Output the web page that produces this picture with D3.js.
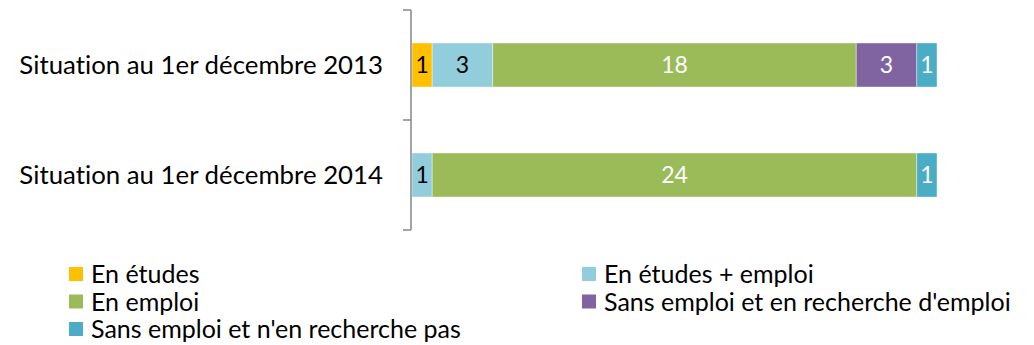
<!DOCTYPE html>
<html>
<head>
<meta charset="utf-8">
<script src="https://cdn.jsdelivr.net/npm/d3@7"></script>
<style>
  body { margin: 0; background: #fff; }
  text { font-family: Lato, "Open Sans", sans-serif; font-variant-ligatures: none; }
</style>
</head>
<body>
<svg id="chart" width="1034" height="345"></svg>
<script>
// Situations at each date, number of people per status
const categories = ["Situation au 1er décembre 2013", "Situation au 1er décembre 2014"];
const seriesNames = [
  "En études",
  "En études + emploi",
  "En emploi",
  "Sans emploi et en recherche d'emploi",
  "Sans emploi et n'en recherche pas"
];
const seriesColors = ["#FFC000", "#92CDDC", "#9BBB59", "#8064A2", "#4BACC6"];
const labelColors = ["#000", "#000", "#fff", "#fff", "#fff"];
const values2013 = [1, 3, 18, 3, 1];
const values2014 = [0, 1, 24, 0, 1];
const valuesByCategory = [values2013, values2014];

const svg = d3.select("#chart");
const margin = { left: 412, top: 10, plotBottom: 230 };
const total = d3.max(valuesByCategory, v => d3.sum(v));

const x = d3.scaleLinear().domain([0, total]).range([margin.left, 937]);
const y = d3.scaleBand().domain(categories).range([margin.top, margin.plotBottom]).paddingInner(0.6).paddingOuter(0.3);

// stacked rows
const rows = categories.map((c, i) => {
  let acc = 0;
  return valuesByCategory[i].map((v, s) => {
    const seg = { cat: c, s, v, x0: acc, x1: acc + v };
    acc += v;
    return seg;
  }).filter(d => d.v > 0);
});

const g = svg.append("g");
rows.forEach(row => {
  const rg = g.append("g");
  rg.selectAll("rect").data(row).join("rect")
    .attr("x", d => x(d.x0))
    .attr("width", d => x(d.x1) - x(d.x0))
    .attr("y", d => y(d.cat))
    .attr("height", y.bandwidth())
    .attr("fill", d => seriesColors[d.s])
    .attr("stroke", "rgba(255,255,255,0.5)")
    .attr("stroke-width", 0.8);
  rg.selectAll("text").data(row).join("text")
    .attr("x", d => (x(d.x0) + x(d.x1)) / 2)
    .attr("y", d => y(d.cat) + y.bandwidth() / 2)
    .attr("dy", "0.36em")
    .attr("text-anchor", "middle")
    .attr("font-size", 23)
    .attr("fill", d => labelColors[d.s])
    .text(d => d.v);
});

// category axis with bracket-style ticks between groups
const axisG = svg.append("g");
axisG.append("line")
  .attr("x1", margin.left - 1).attr("x2", margin.left - 1)
  .attr("y1", margin.top).attr("y2", margin.plotBottom)
  .attr("stroke", "#868686").attr("stroke-width", 1.5);
const step = (margin.plotBottom - margin.top) / categories.length;
d3.range(categories.length + 1).forEach(i => {
  const ty = margin.top + i * step;
  axisG.append("line")
    .attr("x1", margin.left - 9).attr("x2", margin.left - 1)
    .attr("y1", ty).attr("y2", ty)
    .attr("stroke", "#868686").attr("stroke-width", 1.5);
});
axisG.selectAll("text.cat").data(categories).join("text")
  .attr("class", "cat")
  .attr("x", 383)
  .attr("y", d => y(d) + y.bandwidth() / 2)
  .attr("dy", "0.36em")
  .attr("text-anchor", "end")
  .attr("font-size", 25.8)
  .attr("fill", "#000")
  .text(d => d);

// legend, two columns
const legendOrder = [0, 1, 2, 3, 4];
const legend = svg.append("g");
legendOrder.forEach((s, i) => {
  const col = i % 2, row = Math.floor(i / 2);
  const lx = col === 0 ? 69 : 582;
  const ly = 274 + row * 27.5;
  const item = legend.append("g");
  item.append("rect").attr("x", lx).attr("y", ly - 7).attr("width", 14).attr("height", 14).attr("fill", seriesColors[s]);
  item.append("text").attr("x", lx + 22).attr("y", ly).attr("dy", "0.36em")
    .attr("font-size", 25).attr("fill", "#000").text(seriesNames[s]);
});
</script>
</body>
</html>
